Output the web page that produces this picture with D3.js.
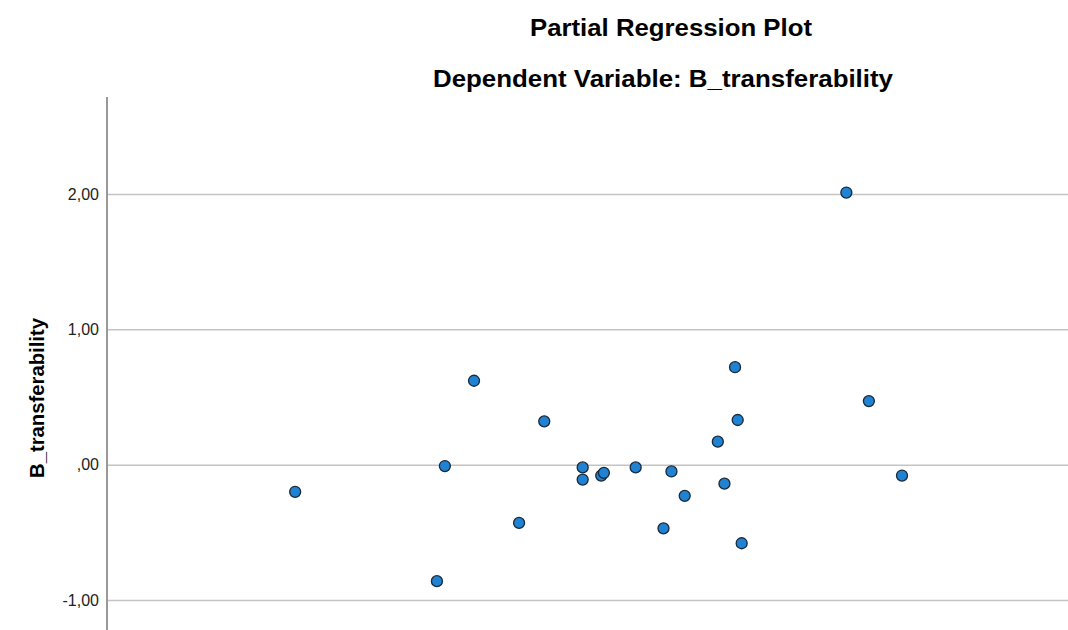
<!DOCTYPE html>
<html>
<head>
<meta charset="utf-8">
<script src="https://cdn.jsdelivr.net/npm/d3@7"></script>
<style>
  body { margin: 0; background: #fff; }
  svg { display: block; font-family: "Liberation Sans", Arial, sans-serif; }
</style>
</head>
<body>
<script>
const wdth = 1068;
const hght = 630;

// residuals (x axis not shown, so x is in arbitrary units)
const xResid = [-2.58, -1.51, -1.45, -1.23, -0.89, -0.70, -0.41, -0.41, -0.27, -0.25, -0.01,
  0.20, 0.26, 0.36, 0.61, 0.66, 0.74, 0.76, 0.79, 1.58, 1.75, 2.00];
const yResid = [-0.20, -0.86, -0.01, 0.62, -0.43, 0.32, -0.02, -0.11, -0.08, -0.06, -0.02,
  -0.47, -0.05, -0.23, 0.17, -0.14, 0.72, 0.33, -0.58, 2.01, 0.47, -0.08];
const yTicks = [-1, 0, 1, 2];

const titleText = "Partial Regression Plot";
const subtitleText = "Dependent Variable: B_transferability";
const yLabelText = "B_transferability";

const points = xResid.map((x, i) => ({ x: x, y: yResid[i] }));

const plotLeft = 107;
const plotTop = 97;

const x = d3.scaleLinear().domain([-4, 4]).range([plotLeft, plotLeft + 1060]);
const y = d3.scaleLinear().domain([0, 1]).range([464.7, 329.3]);

// SPSS style labels: 2,00  ,00  -1,00
const fmtTick = (v) => {
  if (v === 0) return ",00";
  return (v < 0 ? "-" : "") + Math.abs(v).toFixed(2).replace(".", ",");
};

const svg = d3.select("body")
  .append("svg")
  .attr("width", wdth)
  .attr("height", hght);

svg.append("text")
  .text(titleText)
  .attr("x", 671)
  .attr("y", 36)
  .attr("text-anchor", "middle")
  .attr("font-size", 23)
  .attr("font-weight", "bold")
  .attr("textLength", 282)
  .attr("lengthAdjust", "spacingAndGlyphs");

svg.append("text")
  .text(subtitleText)
  .attr("x", 663)
  .attr("y", 87)
  .attr("text-anchor", "middle")
  .attr("font-size", 23)
  .attr("font-weight", "bold")
  .attr("textLength", 460)
  .attr("lengthAdjust", "spacingAndGlyphs");

// gridlines
svg.append("g")
  .attr("transform", "translate(" + plotLeft + ",0)")
  .call(d3.axisRight(y).tickValues(yTicks).tickSize(wdth - plotLeft).tickFormat(""))
  .call(g => g.select(".domain").remove())
  .call(g => g.selectAll("line").attr("stroke", "#c4c4c4").attr("stroke-width", 1.5));

// y axis
const yAxis = svg.append("g")
  .attr("transform", "translate(" + plotLeft + ",0)")
  .call(d3.axisLeft(y).tickValues(yTicks).tickSize(0).tickPadding(8).tickFormat(fmtTick));

yAxis.select(".domain").remove();
yAxis.selectAll("text")
  .attr("font-size", 16)
  .attr("font-family", "Liberation Sans, Arial, sans-serif")
  .attr("fill", "#222");

svg.append("line")
  .attr("x1", plotLeft).attr("x2", plotLeft)
  .attr("y1", plotTop).attr("y2", hght)
  .attr("stroke", "#999")
  .attr("stroke-width", 2);

svg.append("text")
  .text(yLabelText)
  .attr("transform", "translate(44,398) rotate(-90)")
  .attr("text-anchor", "middle")
  .attr("font-size", 21)
  .attr("font-weight", "bold")
  .attr("textLength", 160)
  .attr("lengthAdjust", "spacingAndGlyphs");

svg.append("g")
  .selectAll("circle")
  .data(points)
  .enter()
  .append("circle")
  .attr("cx", d => x(d.x))
  .attr("cy", d => y(d.y))
  .attr("r", 5.5)
  .attr("fill", "#1f82d2")
  .attr("stroke", "#1a2a3a")
  .attr("stroke-width", 1.3);
</script>
</body>
</html>
